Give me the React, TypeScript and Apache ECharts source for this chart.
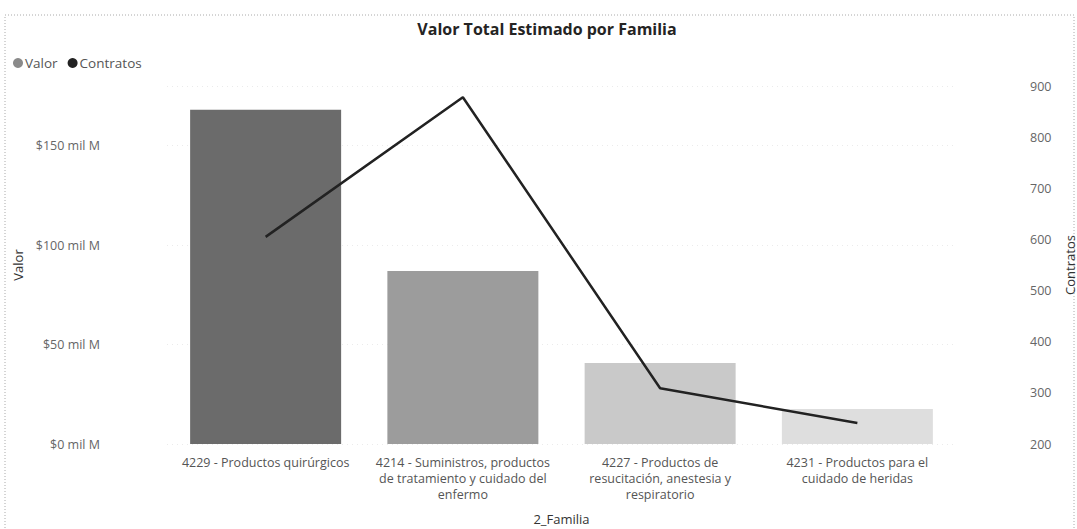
import React, { useEffect, useRef } from "react";
import * as echarts from "echarts";

const categories = [
  "4229 - Productos quirúrgicos",
  "4214 - Suministros, productos\nde tratamiento y cuidado del\nenfermo",
  "4227 - Productos de\nresucitación, anestesia y\nrespiratorio",
  "4231 - Productos para el\ncuidado de heridas",
];
const valor = [168, 87, 40.7, 17.6];
const contratos = [605, 878, 309, 241];
const barColors = ["#6b6b6b", "#9c9c9c", "#c9c9c9", "#dedede"];

const FONT = "'Open Sans', 'Noto Sans', sans-serif";

export default function App() {
  const ref = useRef<HTMLDivElement>(null);
  useEffect(() => {
    if (!ref.current) return;
    const chart = echarts.init(ref.current, undefined, { renderer: "svg" });
    chart.setOption({
      animation: false,
      textStyle: { fontFamily: FONT },
      title: {
        text: "Valor Total Estimado por Familia",
        left: 542,
        top: 16,
        textAlign: "center",
        textStyle: { fontSize: 16, fontWeight: "bold", color: "#252423", fontFamily: FONT },
      },
      legend: {
        left: 8,
        top: 51,
        icon: "circle",
        itemWidth: 10,
        itemHeight: 10,
        itemGap: 10,
        textStyle: { fontSize: 13.5, color: "#555", fontFamily: FONT, padding: [0, 0, 0, -3] },
        data: [
          { name: "Valor", itemStyle: { color: "#8a8a8a" } },
          { name: "Contratos", itemStyle: { color: "#222" } },
        ],
      },
      graphic: [
        {
          type: "rect",
          shape: { x: 5, y: 15, width: 1069, height: 530 },
          style: { fill: "none", stroke: "#aaa", lineWidth: 1, lineDash: [1, 2] },
          silent: true,
        },
      ],
      grid: { left: 167, right: 121, top: 86, bottom: 85, outerBoundsMode: "none", containLabel: false },
      xAxis: {
        type: "category",
        data: categories,
        name: "2_Familia",
        nameLocation: "middle",
        nameGap: 68,
        nameTextStyle: { fontSize: 13, color: "#333", fontFamily: FONT },
        axisLine: { show: false },
        axisTick: { show: false },
        axisLabel: {
          interval: 0,
          margin: 10,
          fontSize: 12.5,
          lineHeight: 16,
          color: "#555",
          fontFamily: FONT,
        },
      },
      yAxis: [
        {
          type: "value",
          min: 0,
          max: 180,
          interval: 50,
          name: "Valor",
          nameLocation: "middle",
          nameRotate: 90,
          nameGap: 142,
          nameTextStyle: { fontSize: 13, color: "#333", fontFamily: FONT },
          axisLine: { show: false },
          axisTick: { show: false },
          axisLabel: {
            margin: 67,
            fontSize: 12.5,
            color: "#666",
            fontFamily: FONT,
            formatter: (v: number) => (v % 50 === 0 ? `$${v} mil M` : ""),
          },
          splitLine: { show: true, lineStyle: { color: "#ebebeb", type: [1, 4] } },
        },
        {
          type: "value",
          min: 200,
          max: 900,
          interval: 100,
          name: "Contratos",
          nameLocation: "middle",
          nameRotate: 90,
          nameGap: 107,
          nameTextStyle: { fontSize: 13, color: "#333", fontFamily: FONT },
          axisLine: { show: false },
          axisTick: { show: false },
          axisLabel: { margin: 74, fontSize: 12.5, color: "#666", fontFamily: FONT },
          splitLine: { show: false },
        },
      ],
      series: [
        {
          name: "Valor",
          type: "bar",
          yAxisIndex: 0,
          barWidth: 151,
          data: valor.map((v, i) => ({ value: v, itemStyle: { color: barColors[i] } })),
          itemStyle: { color: "#8a8a8a" },
        },
        {
          name: "Contratos",
          type: "line",
          yAxisIndex: 1,
          data: contratos,
          showSymbol: false,
          symbol: "none",
          lineStyle: { color: "#222", width: 2.5 },
          itemStyle: { color: "#222" },
        },
      ],
    });
    return () => chart.dispose();
  }, []);
  return (
    <div
      ref={ref}
      style={{ position: "fixed", left: 0, top: 0, width: 1077, height: 529, background: "#fff" }}
    />
  );
}
